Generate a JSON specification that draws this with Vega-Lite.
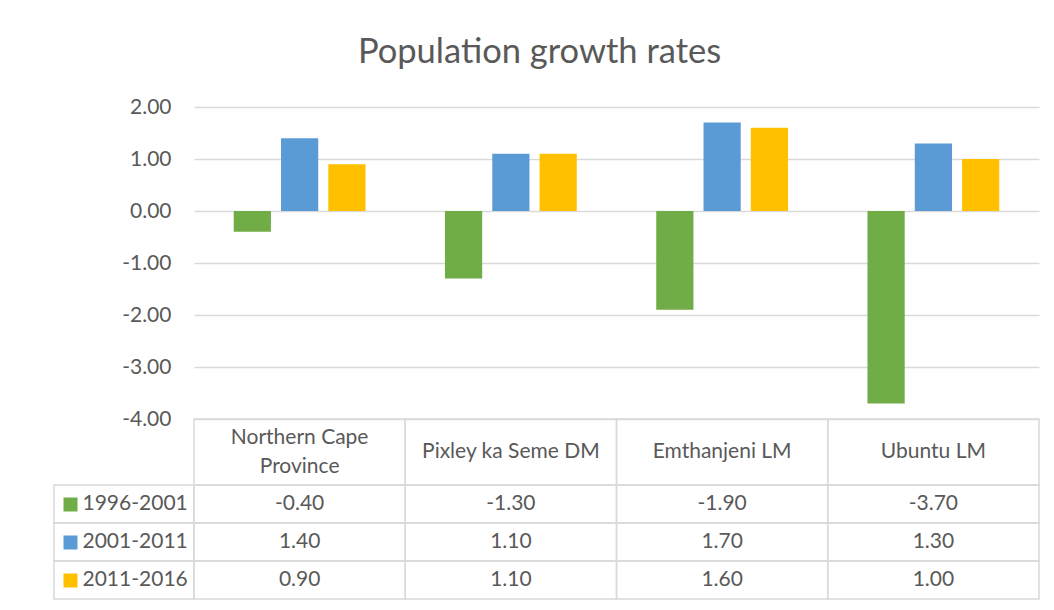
{
  "$schema": "https://vega.github.io/schema/vega-lite/v6.json",
  "background": "white",
  "padding": {"left": 53, "top": 34, "right": 16, "bottom": 6},
  "title": {"text": "Population growth rates", "fontSize": 34.5, "font": "Lato", "fontWeight": "normal", "color": "#595959", "anchor": "middle", "offset": 26, "dx": -7},
  "config": {
    "view": {"stroke": null},
    "font": "Lato",
    "locale": {"number": {"decimal": ".", "thousands": ",", "grouping": [3], "currency": ["$", ""], "minus": "-"}}
  },
  "datasets": {
    "growth": [
      {"region": "Northern Cape Province", "period": "1996-2001", "value": -0.4},
      {"region": "Northern Cape Province", "period": "2001-2011", "value": 1.4},
      {"region": "Northern Cape Province", "period": "2011-2016", "value": 0.9},
      {"region": "Pixley ka Seme DM", "period": "1996-2001", "value": -1.3},
      {"region": "Pixley ka Seme DM", "period": "2001-2011", "value": 1.1},
      {"region": "Pixley ka Seme DM", "period": "2011-2016", "value": 1.1},
      {"region": "Emthanjeni LM", "period": "1996-2001", "value": -1.9},
      {"region": "Emthanjeni LM", "period": "2001-2011", "value": 1.7},
      {"region": "Emthanjeni LM", "period": "2011-2016", "value": 1.6},
      {"region": "Ubuntu LM", "period": "1996-2001", "value": -3.7},
      {"region": "Ubuntu LM", "period": "2001-2011", "value": 1.3},
      {"region": "Ubuntu LM", "period": "2011-2016", "value": 1.0}
    ],
    "regions": [
      {"region": "Northern Cape Province", "label": "Northern Cape\nProvince", "lines": 2},
      {"region": "Pixley ka Seme DM", "label": "Pixley ka Seme DM", "lines": 1},
      {"region": "Emthanjeni LM", "label": "Emthanjeni LM", "lines": 1},
      {"region": "Ubuntu LM", "label": "Ubuntu LM", "lines": 1}
    ],
    "periods": [
      {"period": "1996-2001"},
      {"period": "2001-2011"},
      {"period": "2011-2016"}
    ]
  },
  "columns": 2,
  "spacing": 0,
  "bounds": "flush",
  "concat": [
    {
      "width": 140, "height": 312,
      "data": {"values": [{}]},
      "mark": {"type": "text", "text": ""}
    },
    {
      "width": 845, "height": 312,
      "data": {"name": "growth"},
      "mark": {"type": "bar"},
      "encoding": {
        "x": {"field": "region", "type": "nominal", "sort": ["Northern Cape Province", "Pixley ka Seme DM", "Emthanjeni LM", "Ubuntu LM"], "scale": {"paddingInner": 0, "paddingOuter": 0}, "axis": null},
        "xOffset": {"field": "period", "type": "nominal", "sort": ["1996-2001", "2001-2011", "2011-2016"], "scale": {"paddingInner": 0.213, "paddingOuter": 0.84}},
        "y": {"field": "value", "type": "quantitative", "scale": {"domain": [-4, 2], "nice": false},
          "axis": {"values": [-4, -3, -2, -1, 0, 1, 2], "format": ".2f", "title": null, "domain": false, "ticks": false, "tickSize": 0, "labelPadding": 23, "labelFontSize": 21, "labelColor": "#595959", "labelFont": "Lato", "gridColor": "#D9D9D9", "gridWidth": 1.3}},
        "color": {"field": "period", "type": "nominal", "scale": {"domain": ["1996-2001", "2001-2011", "2011-2016"], "range": ["#70AD47", "#5B9BD5", "#FFC000"]}, "legend": null}
      }
    },
    {
      "width": 140, "height": 66,
      "data": {"values": [{}]},
      "mark": {"type": "text", "text": ""}
    },
    {
      "width": 845, "height": 66,
      "data": {"name": "regions"},
      "layer": [
        {
          "mark": {"type": "rect", "fill": null, "fillOpacity": 0, "stroke": "#D9D9D9", "strokeWidth": 1.5},
          "encoding": {
            "x": {"field": "region", "type": "nominal", "sort": ["Northern Cape Province", "Pixley ka Seme DM", "Emthanjeni LM", "Ubuntu LM"], "scale": {"paddingInner": 0, "paddingOuter": 0}, "axis": null}
          }
        },
        {
          "transform": [{"filter": "datum.lines == 1"}],
          "mark": {"type": "text", "fontSize": 21, "color": "#595959", "baseline": "middle"},
          "encoding": {
            "x": {"field": "region", "type": "nominal", "sort": ["Northern Cape Province", "Pixley ka Seme DM", "Emthanjeni LM", "Ubuntu LM"], "scale": {"paddingInner": 0, "paddingOuter": 0}, "axis": null},
            "text": {"field": "label", "type": "nominal"}
          }
        },
        {
          "transform": [{"filter": "datum.lines == 2"}],
          "mark": {"type": "text", "fontSize": 21, "color": "#595959", "lineBreak": "\n", "lineHeight": 29, "baseline": "middle", "dy": -14.5},
          "encoding": {
            "x": {"field": "region", "type": "nominal", "sort": ["Northern Cape Province", "Pixley ka Seme DM", "Emthanjeni LM", "Ubuntu LM"], "scale": {"paddingInner": 0, "paddingOuter": 0}, "axis": null},
            "text": {"field": "label", "type": "nominal"}
          }
        }
      ]
    },
    {
      "width": 140, "height": 114,
      "data": {"name": "periods"},
      "mark": {"type": "rect", "fill": null, "fillOpacity": 0, "stroke": "#D9D9D9", "strokeWidth": 1.5},
      "encoding": {
        "y": {"field": "period", "type": "nominal", "sort": ["1996-2001", "2001-2011", "2011-2016"], "scale": {"paddingInner": 0, "paddingOuter": 0},
          "axis": {"orient": "left", "offset": -23, "title": null, "domain": false, "grid": false, "ticks": true, "tickSize": 14, "tickWidth": 14, "tickCap": "butt",
            "tickColor": {"condition": [{"test": "datum.value === '1996-2001'", "value": "#70AD47"}, {"test": "datum.value === '2001-2011'", "value": "#5B9BD5"}], "value": "#FFC000"},
            "labelAlign": "left", "labelPadding": -19, "labelFontSize": 21, "labelColor": "#595959", "labelFont": "Lato", "zindex": 1}}
      }
    },
    {
      "width": 845, "height": 114,
      "data": {"name": "growth"},
      "layer": [
        {
          "mark": {"type": "rect", "fill": null, "fillOpacity": 0, "stroke": "#D9D9D9", "strokeWidth": 1.5},
          "encoding": {
            "x": {"field": "region", "type": "nominal", "sort": ["Northern Cape Province", "Pixley ka Seme DM", "Emthanjeni LM", "Ubuntu LM"], "scale": {"paddingInner": 0, "paddingOuter": 0}, "axis": null},
            "y": {"field": "period", "type": "nominal", "sort": ["1996-2001", "2001-2011", "2011-2016"], "scale": {"paddingInner": 0, "paddingOuter": 0}, "axis": null}
          }
        },
        {
          "mark": {"type": "text", "fontSize": 21, "color": "#595959", "baseline": "middle"},
          "encoding": {
            "x": {"field": "region", "type": "nominal", "sort": ["Northern Cape Province", "Pixley ka Seme DM", "Emthanjeni LM", "Ubuntu LM"], "scale": {"paddingInner": 0, "paddingOuter": 0}, "axis": null},
            "y": {"field": "period", "type": "nominal", "sort": ["1996-2001", "2001-2011", "2011-2016"], "scale": {"paddingInner": 0, "paddingOuter": 0}, "axis": null},
            "text": {"field": "value", "type": "quantitative", "format": ".2f"}
          }
        }
      ]
    }
  ]
}
